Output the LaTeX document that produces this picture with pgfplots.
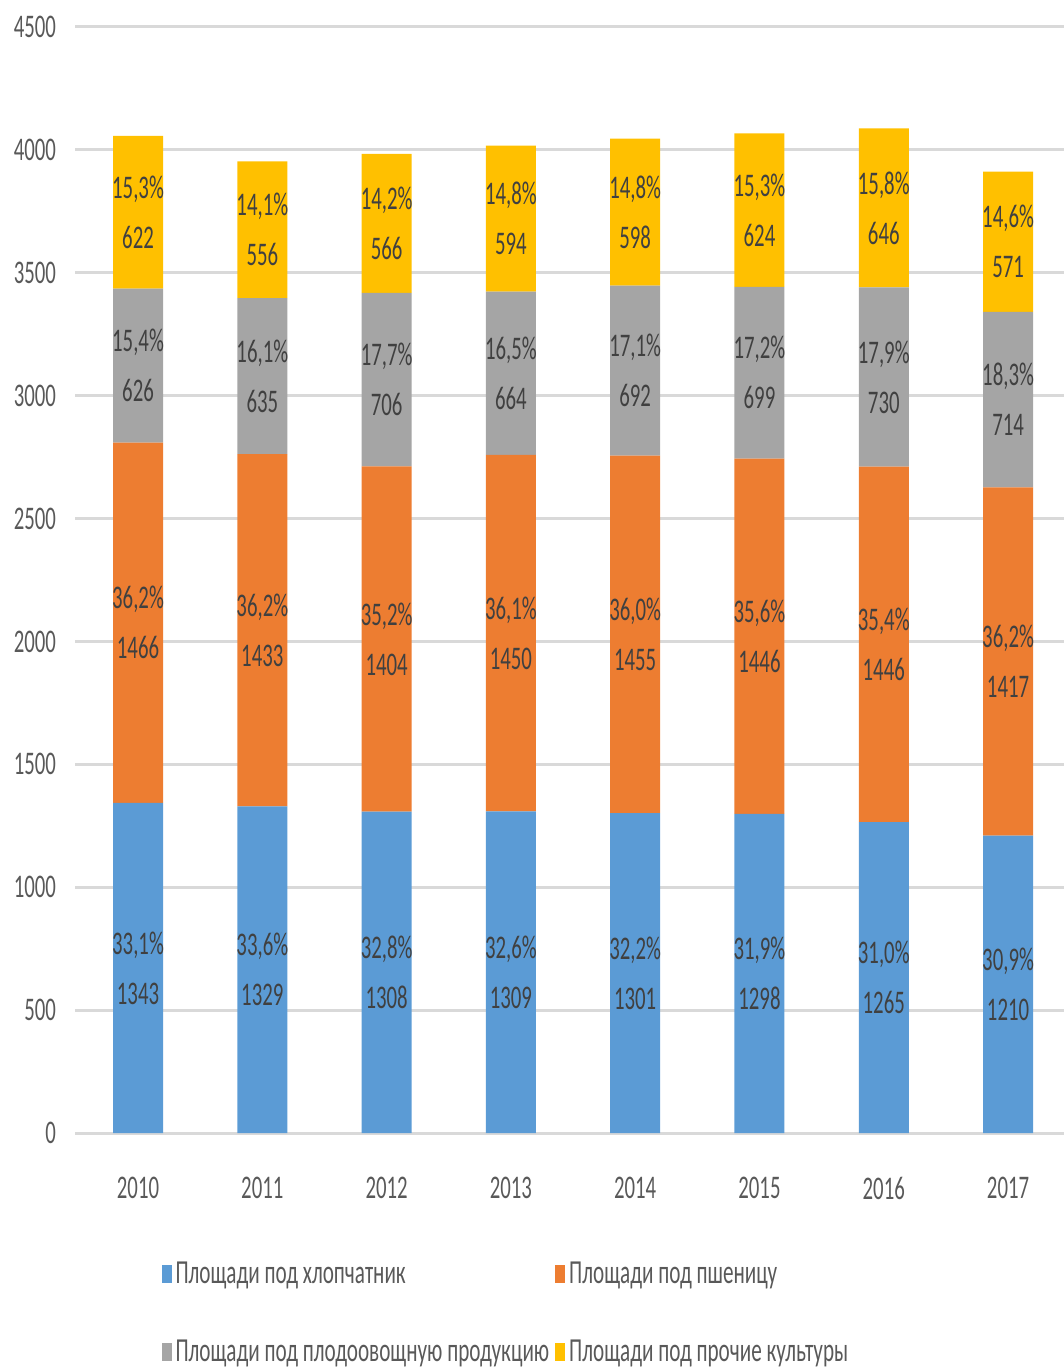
\documentclass[border=0pt]{standalone}
\usepackage{pgfplots}
\pgfplotsset{compat=1.18}
\usepackage{pgfplotstable}
\usepackage{fontspec}
\setmainfont{Carlito}[FakeStretch=0.63]
\definecolor{cblue}{HTML}{5B9BD5}
\definecolor{corange}{HTML}{ED7D31}
\definecolor{cgray}{HTML}{A5A5A5}
\definecolor{cyellow}{HTML}{FFC000}
\definecolor{gridgray}{HTML}{D9D9D9}
\definecolor{tickgray}{HTML}{595959}
\definecolor{labgray}{HTML}{404040}
\pgfplotstableread{
x v1 p1 v2 p2 v3 p3 v4 p4
0 1343 33.1 1466 36.2 626 15.4 622 15.3
1 1329 33.6 1433 36.2 635 16.1 556 14.1
2 1308 32.8 1404 35.2 706 17.7 566 14.2
3 1309 32.6 1450 36.1 664 16.5 594 14.8
4 1301 32.2 1455 36.0 692 17.1 598 14.8
5 1298 31.9 1446 35.6 699 17.2 624 15.3
6 1265 31.0 1446 35.4 730 17.9 646 15.8
7 1210 30.9 1417 36.2 714 18.3 571 14.6
}\data
\pgfplotsset{
  seglabel/.style n args={2}{
    visualization depends on={\thisrow{#1}\as\val},
    visualization depends on={\thisrow{#2}\as\pct},
    nodes near coords={\pgfmathprintnumber[fixed,fixed zerofill,precision=1,use comma]{\pct}\%\\\pgfmathprintnumber[fixed,precision=0]{\val}},
    every node near coord/.append style={anchor=center, align=center, text=labgray,
      font=\fontsize{16.5}{25}\selectfont},
  }
}
\begin{document}
\begin{tikzpicture}
\begin{axis}[
  at={(37.5pt,118.5pt)}, anchor=south west,
  scale only axis, width=494.5pt, height=553pt,
  ybar stacked, bar width=25pt,
  xmin=-0.507, xmax=7.45, ymin=0, ymax=4500,
  xtick={0,...,7}, xticklabels={2010,2011,2012,2013,2014,2015,2016,2017},
  ytick={0,500,...,4500},
  ymajorgrids, grid style={line width=1.5pt, color=gridgray},
  axis line style={draw=none}, major tick length=0pt,
  tick label style={font=\fontsize{16.5}{20}\selectfont, text=tickgray},
  /pgf/number format/1000 sep={},
  /pgf/number format/assume math mode=true,
  yticklabel style={xshift=-6pt},
  xticklabel style={yshift=-18.5pt},
  legend columns=2,
  legend cell align=left,
  legend style={at={(0.081,-0.109)}, anchor=north west, draw=none, fill=none,
    font=\fontsize{16.8}{20}\selectfont, text=tickgray, row sep=22.5pt,
    /tikz/every even column/.append style={column sep=1pt}},
  clip=false,
]
\addplot+[fill=cblue, draw=none, seglabel={v1}{p1},
  legend image code/.code={\fill[cblue] (0pt,-4.5pt) rectangle (5pt,4.5pt);}] table[x=x,y=v1] {\data};
\addplot+[fill=corange, draw=none, seglabel={v2}{p2},
  legend image code/.code={\fill[corange] (0pt,-4.5pt) rectangle (5pt,4.5pt);}] table[x=x,y=v2] {\data};
\addplot+[fill=cgray, draw=none, seglabel={v3}{p3},
  legend image code/.code={\fill[cgray] (0pt,-4.5pt) rectangle (5pt,4.5pt);}] table[x=x,y=v3] {\data};
\addplot+[fill=cyellow, draw=none, seglabel={v4}{p4},
  legend image code/.code={\fill[cyellow] (0pt,-4.5pt) rectangle (5pt,4.5pt);}] table[x=x,y=v4] {\data};
\legend{Площади под хлопчатник, Площади под пшеницу, Площади под плодоовощную продукцию, Площади под прочие культуры}
\end{axis}
\pgfresetboundingbox
\useasboundingbox (0,0) rectangle (532pt,685pt);
\end{tikzpicture}
\end{document}
